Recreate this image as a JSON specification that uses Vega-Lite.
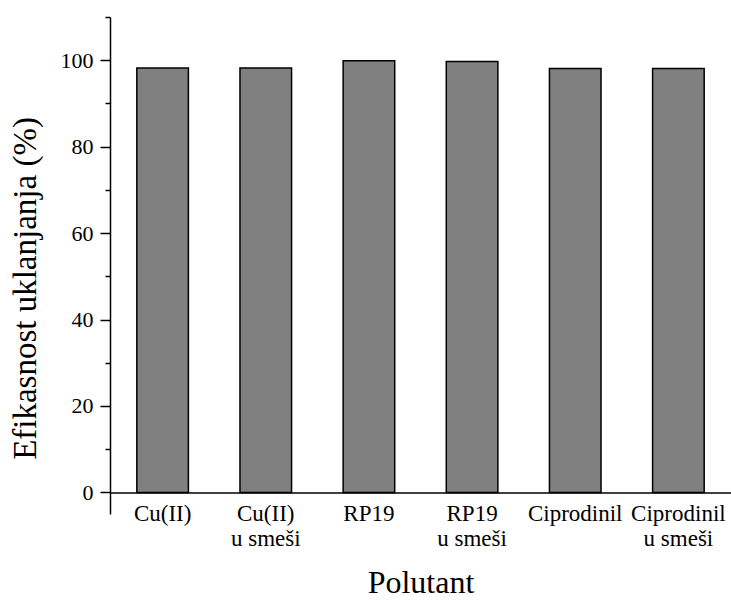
{
  "$schema": "https://vega.github.io/schema/vega-lite/v6.json",
  "autosize": "none",
  "padding": {"left": 110, "top": 17, "right": 0, "bottom": 86},
  "width": 621,
  "height": 497,
  "background": "white",
  "data": {
    "values": [
      {"pollutant": "Cu(II)", "efficiency": 98.2},
      {"pollutant": "Cu(II) u smeši", "efficiency": 98.2},
      {"pollutant": "RP19", "efficiency": 99.9},
      {"pollutant": "RP19 u smeši", "efficiency": 99.7},
      {"pollutant": "Ciprodinil", "efficiency": 98.1},
      {"pollutant": "Ciprodinil u smeši", "efficiency": 98.1}
    ]
  },
  "config": {
    "view": {"stroke": null},
    "font": "Liberation Serif",
    "axis": {"grid": false, "domainColor": "black", "tickColor": "black", "labelColor": "black", "titleColor": "black", "domainWidth": 1.5, "tickWidth": 1.5, "titleFontWeight": "normal", "labelFont": "Liberation Serif", "titleFont": "Liberation Serif"}
  },
  "mark": {"type": "bar", "fill": "#808080", "stroke": "black", "strokeWidth": 1.5},
  "encoding": {
    "x": {
      "field": "pollutant",
      "type": "nominal",
      "sort": null,
      "scale": {"paddingInner": 0.5, "paddingOuter": 0.26},
      "axis": {
        "title": "Polutant",
        "titleFontSize": 32,
        "titleBaseline": "alphabetic",
        "titleY": 100,
        "labelAngle": 0,
        "labelFontSize": 23,
        "labelLineHeight": 25,
        "labelPadding": 10,
        "ticks": false,
        "offset": -21.6,
        "labelExpr": "indexof(datum.value, ' u smeši') > 0 ? [replace(datum.value, ' u smeši', ''), 'u smeši'] : datum.value"
      }
    },
    "y": {
      "field": "efficiency",
      "type": "quantitative",
      "scale": {"domain": [-5, 110], "nice": false, "zero": false},
      "axis": {
        "title": "Efikasnost uklanjanja (%)",
        "titleFontSize": 33,
        "titleBaseline": "alphabetic",
        "titleAngle": 270,
        "titleX": -75,
        "titleY": 271,
        "titleAlign": "center",
        "values": [0, 10, 20, 30, 40, 50, 60, 70, 80, 90, 100, 110],
        "tickSize": {"condition": {"test": "datum.value % 20 == 0", "value": 10}, "value": 5},
        "labelExpr": "datum.value % 20 == 0 ? datum.label : ''",
        "labelFontSize": 22,
        "labelPadding": 7
      }
    }
  }
}
